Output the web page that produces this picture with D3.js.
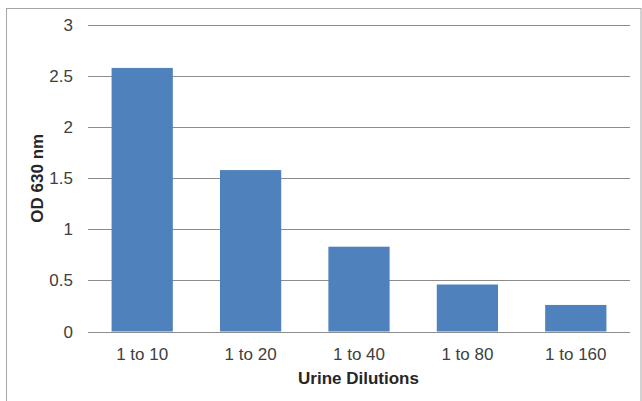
<!DOCTYPE html>
<html>
<head>
<meta charset="utf-8">
<script src="https://cdn.jsdelivr.net/npm/d3@7"></script>
<style>
  html, body { margin: 0; padding: 0; background: #ffffff; }
  svg { display: block; }
</style>
</head>
<body>
<script>
const categories = ["1 to 10", "1 to 20", "1 to 40", "1 to 80", "1 to 160"];
const values = [2.58, 1.58, 0.83, 0.46, 0.26];
const yTicks = [0, 0.5, 1, 1.5, 2, 2.5, 3];
const yTickLabels = ["0", "0.5", "1", "1.5", "2", "2.5", "3"];
const xTitle = "Urine Dilutions";
const yTitle = "OD 630 nm";

const W = 642, H = 401;
const plot = { left: 88, right: 630, top: 25, bottom: 331.5 };

const svg = d3.select("body").append("svg").attr("width", W).attr("height", H);

// outer chart border
svg.append("rect")
  .attr("x", 6.5).attr("y", 8.5)
  .attr("width", 641 - 6.5).attr("height", H + 5)
  .attr("fill", "#ffffff").attr("stroke", "#a6a6a6").attr("stroke-width", 1);

const x = d3.scaleBand().domain(categories).range([plot.left, plot.right]).paddingInner(0).paddingOuter(0);
const y = d3.scaleLinear().domain([0, 3]).range([plot.bottom, plot.top]);

const font = "'Liberation Sans', Arial, sans-serif";

// gridlines
svg.append("g").selectAll("line").data(yTicks).join("line")
  .attr("x1", plot.left).attr("x2", plot.right)
  .attr("y1", d => Math.round(y(d)) + 0.5).attr("y2", d => Math.round(y(d)) + 0.5)
  .attr("stroke", "#8c8c8c").attr("stroke-width", 1.2);

// y tick labels
svg.append("g").selectAll("text").data(yTicks).join("text")
  .attr("x", 73).attr("y", d => y(d) + 6)
  .attr("text-anchor", "end")
  .attr("font-family", font).attr("font-size", 17).attr("fill", "#404040")
  .text((d, i) => yTickLabels[i]);

// bars
const barW = x.bandwidth() * 0.565;
svg.append("g").selectAll("rect").data(values).join("rect")
  .attr("x", (d, i) => x(categories[i]) + (x.bandwidth() - barW) / 2)
  .attr("y", d => y(d))
  .attr("width", barW)
  .attr("height", d => y(0) - y(d))
  .attr("fill", "#4f81bd");

// x labels
svg.append("g").selectAll("text").data(categories).join("text")
  .attr("x", d => x(d) + x.bandwidth() / 2)
  .attr("y", 360)
  .attr("text-anchor", "middle")
  .attr("font-family", font).attr("font-size", 17).attr("fill", "#404040")
  .text(d => d);

// axis titles
svg.append("text")
  .attr("x", 358.5).attr("y", 384)
  .attr("text-anchor", "middle")
  .attr("font-family", font).attr("font-size", 17).attr("font-weight", "bold").attr("fill", "#262626")
  .text(xTitle);

svg.append("text")
  .attr("transform", `translate(43, ${(plot.top + plot.bottom) / 2}) rotate(-90)`)
  .attr("text-anchor", "middle")
  .attr("font-family", font).attr("font-size", 17).attr("font-weight", "bold").attr("fill", "#262626")
  .text(yTitle);
</script>
</body>
</html>
